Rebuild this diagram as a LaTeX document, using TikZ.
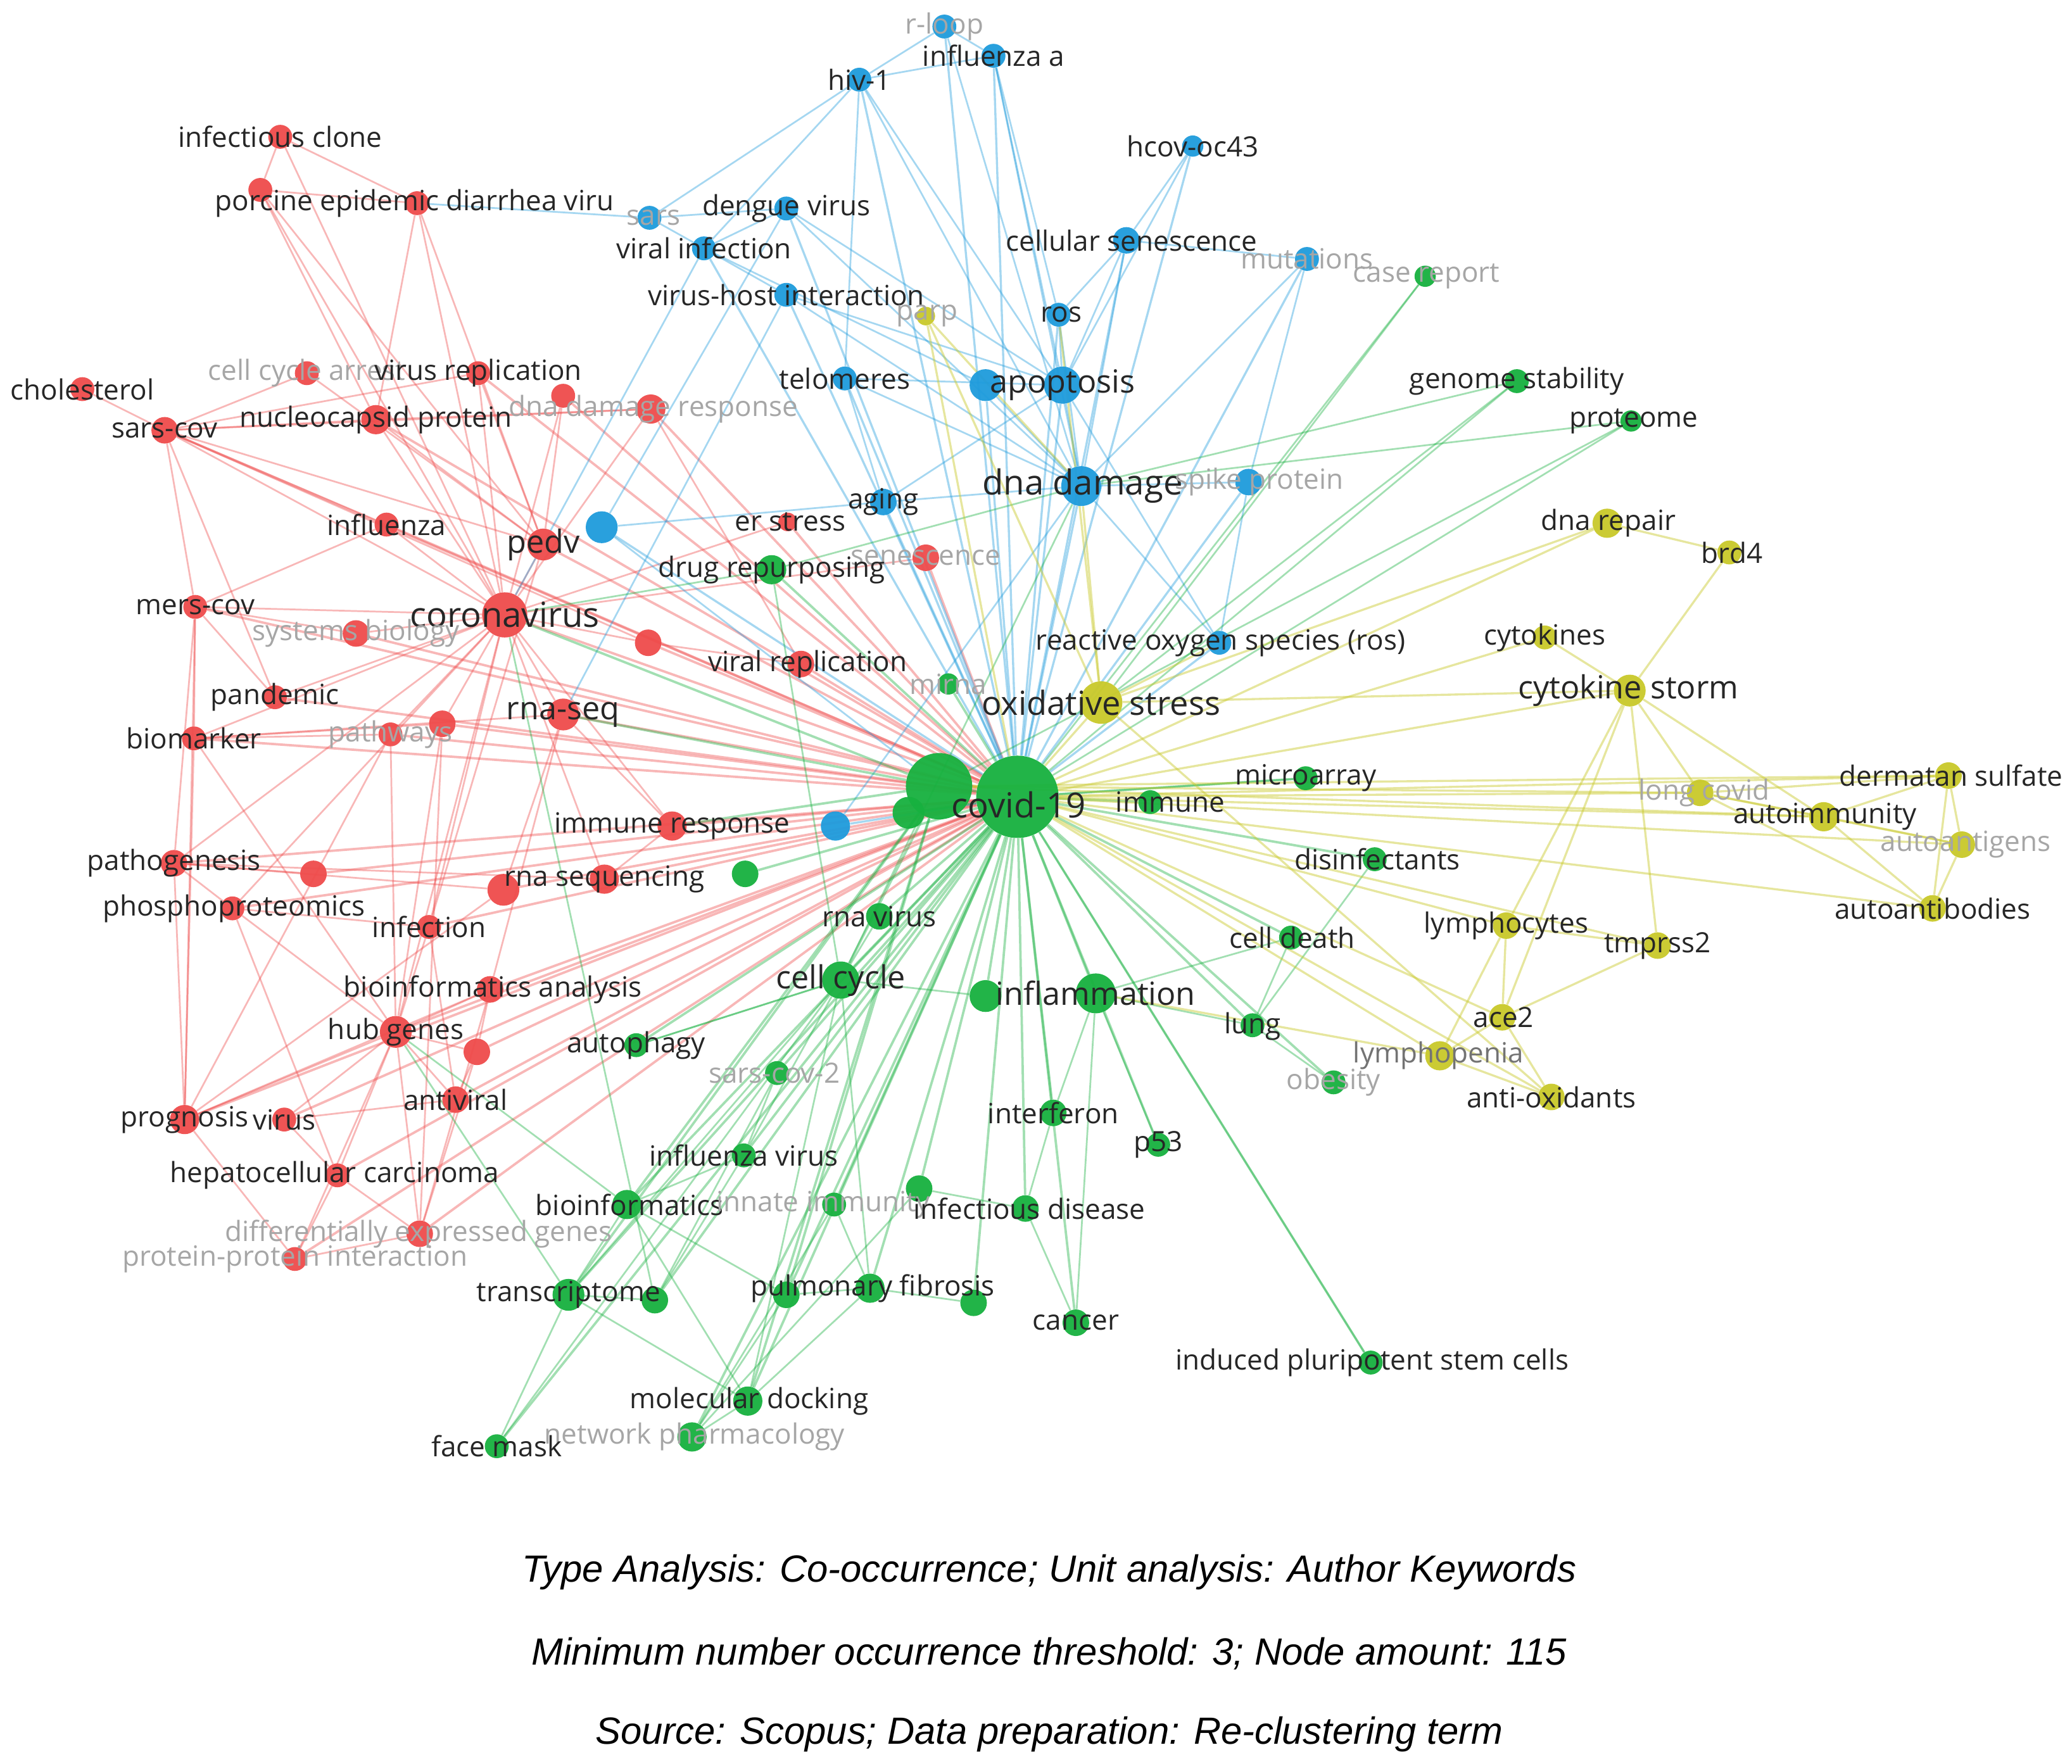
\documentclass[tikz,border=0pt]{standalone}
\usepackage{fontspec}
\setmainfont{Open Sans}
\newfontfamily\capfont{Liberation Sans}
\pgfdeclarelayer{bg}
\pgfdeclarelayer{back}
\pgfsetlayers{back,bg,main}
\definecolor{vred}{HTML}{EF4B4B}
\definecolor{vblue}{HTML}{1E9BDC}
\definecolor{vgreen}{HTML}{17B13F}
\definecolor{vyel}{HTML}{C9C92A}
\newcommand\nd[5]{\node[circle,inner sep=0pt,minimum size=#5pt,fill=#4,fill opacity=0.95] (#1) at (#2,#3) {};}
\newcommand\lb[4]{\node[lab] (#1) at (#2,#3) {#4};}
\newcommand\gl[4]{\node[glab] (#1) at (#2,#3) {#4};}
\newcommand\bl[4]{\node[blab] (#1) at (#2,#3) {#4};}
\tikzset{
 lab/.style={inner sep=0pt,font=\fontsize{21}{21}\selectfont,text=black!85},
 glab/.style={inner sep=0pt,font=\fontsize{21}{21}\selectfont,text=black!35},
 blab/.style={inner sep=0pt,font=\fontsize{24}{24}\selectfont,text=black!85},
 captxt/.style={inner sep=0pt,font=\capfont\itshape\fontsize{28.5}{28.5}\selectfont},
 er/.style={draw=vred,opacity=0.4,line width=1.3pt},
 eb/.style={draw=vblue,opacity=0.4,line width=1.3pt},
 eg/.style={draw=vgreen,opacity=0.4,line width=1.3pt},
 ey/.style={draw=vyel,opacity=0.45,line width=1.3pt},
}
\begin{document}
\begin{tikzpicture}[x=1pt,y=-1pt]
\begin{pgfonlayer}{back}
\fill[white] (0,0) rectangle (1560,1328);
\end{pgfonlayer}
\useasboundingbox (0,0) rectangle (1560,1328);
% blue
\nd{rl}{711}{20}{vblue}{18}\nd{hiv}{647}{60}{vblue}{18}\nd{infa}{748}{42}{vblue}{18}
\nd{hcov}{898}{110}{vblue}{16}\nd{sarsb}{489}{164}{vblue}{18}\nd{deng}{592}{157}{vblue}{18}
\nd{vinf}{530}{187}{vblue}{18}\nd{vhi}{592}{222}{vblue}{18}\nd{csen}{848}{181}{vblue}{20}
\nd{mut}{984}{195}{vblue}{18}\nd{ros}{797}{237}{vblue}{18}\nd{telo}{636}{285}{vblue}{18}
\nd{apo1}{742}{290}{vblue}{24}\nd{apo}{800}{290}{vblue}{28}\nd{dnad}{814}{366}{vblue}{30}
\nd{spk}{940}{363}{vblue}{20}\nd{aging}{665}{378}{vblue}{20}\nd{b1}{453}{397}{vblue}{24}
\nd{rosl}{918}{484}{vblue}{18}\nd{b2}{629}{622}{vblue}{22}
% red
\nd{icl}{211}{103}{vred}{18}\nd{ped1}{196}{143}{vred}{18}\nd{ped2}{314}{153}{vred}{18}
\nd{chol}{62}{293}{vred}{18}\nd{cca}{231}{281}{vred}{18}\nd{vrep}{360}{281}{vred}{18}
\nd{sarscov}{124}{324}{vred}{20}\nd{nucl}{283}{316}{vred}{22}\nd{ddr1}{424}{298}{vred}{18}
\nd{ddr2}{490}{308}{vred}{22}\nd{infl}{291}{395}{vred}{18}\nd{pedv}{409}{410}{vred}{24}
\nd{ers}{593}{393}{vred}{14}\nd{sen}{697}{420}{vred}{20}\nd{mers}{147}{457}{vred}{18}
\nd{cor}{380}{463}{vred}{34}\nd{sysb}{268}{477}{vred}{20}\nd{r1}{488}{484}{vred}{20}
\nd{vrp}{603}{500}{vred}{20}\nd{pand}{207}{525}{vred}{18}\nd{biom}{146}{556}{vred}{18}
\nd{path}{294}{553}{vred}{18}\nd{r2}{333}{545}{vred}{20}\nd{rnas}{424}{538}{vred}{24}
\nd{imr}{506}{622}{vred}{22}\nd{patg}{131}{650}{vred}{20}\nd{r3}{236}{658}{vred}{20}
\nd{rsq1}{379}{670}{vred}{24}\nd{rsq2}{455}{662}{vred}{22}\nd{phos}{175}{684}{vred}{18}
\nd{inf}{323}{698}{vred}{18}\nd{bia}{369}{745}{vred}{20}\nd{hub}{298}{777}{vred}{24}
\nd{r4}{359}{792}{vred}{20}\nd{prog}{139}{843}{vred}{22}\nd{vir}{214}{843}{vred}{18}
\nd{antv}{343}{828}{vred}{20}\nd{hcc}{254}{885}{vred}{18}\nd{deg}{316}{929}{vred}{20}
\nd{ppi}{222}{948}{vred}{18}
% green
\nd{case}{1073}{208}{vgreen}{16}\nd{gstab}{1142}{287}{vgreen}{18}\nd{prot}{1228}{317}{vgreen}{16}
\nd{drug}{581}{429}{vgreen}{22}\nd{mirna}{714}{515}{vgreen}{16}
\nd{cv1}{707}{592}{vgreen}{50}\nd{cv}{766}{600}{vgreen}{62}
\nd{imm}{866}{604}{vgreen}{18}\nd{marr}{983}{586}{vgreen}{18}\nd{disi}{1035}{647}{vgreen}{18}
\nd{g1}{561}{658}{vgreen}{20}\nd{g2}{684}{612}{vgreen}{24}\nd{rnav}{662}{690}{vgreen}{20}
\nd{cdth}{972}{706}{vgreen}{18}\nd{ccy}{633}{738}{vgreen}{28}\nd{infm1}{742}{750}{vgreen}{24}
\nd{infm}{825}{748}{vgreen}{30}\nd{lung}{943}{772}{vgreen}{18}\nd{auto}{479}{787}{vgreen}{18}
\nd{sc2}{585}{808}{vgreen}{18}\nd{obes}{1004}{815}{vgreen}{18}\nd{ifn}{793}{838}{vgreen}{20}
\nd{p53}{872}{862}{vgreen}{18}\nd{infv}{560}{870}{vgreen}{18}\nd{bioi}{472}{907}{vgreen}{22}
\nd{innt}{628}{907}{vgreen}{18}\nd{infd1}{692}{895}{vgreen}{20}\nd{infd}{772}{910}{vgreen}{20}
\nd{tr1}{428}{975}{vgreen}{24}\nd{tr2}{493}{979}{vgreen}{20}\nd{pf1}{655}{970}{vgreen}{22}
\nd{pf2}{592}{975}{vgreen}{20}\nd{pf3}{733}{981}{vgreen}{20}\nd{canc}{810}{996}{vgreen}{20}
\nd{ipsc}{1032}{1026}{vgreen}{18}\nd{md}{563}{1055}{vgreen}{22}\nd{np}{521}{1082}{vgreen}{22}
\nd{fm}{374}{1089}{vgreen}{18}
% yellow
\nd{parp}{697}{238}{vyel}{14}\nd{dnr}{1210}{394}{vyel}{22}\nd{brd}{1302}{416}{vyel}{18}
\nd{cytk}{1163}{480}{vyel}{18}\nd{cs}{1227}{520}{vyel}{24}\nd{ox}{829}{529}{vyel}{32}
\nd{lc}{1280}{597}{vyel}{20}\nd{derm}{1467}{584}{vyel}{20}\nd{aim}{1373}{615}{vyel}{22}
\nd{aag}{1477}{636}{vyel}{20}\nd{aab}{1455}{684}{vyel}{20}\nd{lym}{1134}{697}{vyel}{20}
\nd{tmp}{1248}{712}{vyel}{20}\nd{ace}{1131}{766}{vyel}{20}\nd{lymp}{1084}{795}{vyel}{22}
\nd{anti}{1168}{826}{vyel}{20}
\begin{pgfonlayer}{bg}
\foreach \a/\b in {icl/ped1,icl/ped2,ped1/ped2,ped1/pedv,ped1/cor,icl/cor,ped2/pedv,ped2/cor,ped2/nucl,ped1/nucl,chol/sarscov,sarscov/cca,sarscov/nucl,sarscov/vrep,sarscov/infl,sarscov/mers,sarscov/cor,sarscov/pedv,sarscov/r1,sarscov/pand,mers/cor,mers/biom,mers/patg,mers/prog,mers/infl,mers/sysb,mers/pand,cor/infl,cor/pedv,cor/nucl,cor/vrep,cor/rnas,cor/imr,cor/r2,cor/path,cor/biom,cor/patg,cor/phos,cor/inf,cor/sysb,cor/r1,cor/pand,cor/ddr1,cor/ddr2,cor/hub,cor/rsq2,pedv/nucl,pedv/vrep,pedv/cca,pedv/ddr1,pedv/inf,biom/rnas,biom/path,biom/r2,biom/hub,biom/prog,patg/phos,patg/rsq1,patg/prog,patg/r3,phos/inf,phos/hub,phos/hcc,inf/hub,bia/hub,bia/prog,hub/prog,hub/antv,hub/hcc,hub/ppi,hub/deg,hcc/deg,hcc/ppi,deg/ppi,deg/bia,vir/antv,vir/hcc,antv/r4,rnas/imr,rnas/rsq1,rnas/bia,imr/rsq2,r1/vrp,vrp/ddr2,sen/cor,ers/cor,r2/deg,r2/hub,path/hub,path/prog,inf/antv,prog/ppi,bia/r4,r4/hub,deg/r4,vir/hub,patg/rsq2,prog/rsq1,sarscov/ddr2,nucl/ddr2}
 \draw[er] (\a)--(\b);
\foreach \b in {cor,rnas,imr,rsq2,pedv,r1,hub,bia,inf,phos,patg,biom,path,r2,mers,sarscov,vrp,ers,sen,ddr2,antv,hcc,deg,ppi,prog,r4,rsq1,pand,sysb,infl,nucl,vrep,ddr1,vir,r3}
 \draw[er,line width=1.8pt] (cv)--(\b);
\foreach \a/\b in {rl/hiv,rl/infa,hiv/infa,hiv/vinf,hiv/sarsb,hiv/dnad,infa/dnad,infa/apo,infa/ros,hiv/apo,hcov/apo,hcov/csen,sarsb/deng,sarsb/vinf,deng/vinf,deng/apo,deng/dnad,vinf/vhi,vinf/apo1,vhi/apo,vhi/dnad,csen/ros,csen/apo,csen/dnad,csen/mut,mut/dnad,mut/spk,ros/apo,ros/dnad,telo/apo,telo/dnad,telo/aging,apo/dnad,apo1/dnad,dnad/spk,dnad/aging,dnad/rosl,b1/aging,b1/deng,apo/rosl,spk/rosl,aging/apo,b2/dnad,hiv/telo,rl/dnad,b1/cv1,sarsb/ped2,vinf/cor,vhi/rnas}
 \draw[eb] (\a)--(\b);
\foreach \b in {hiv,infa,vinf,vhi,csen,ros,telo,apo,apo1,dnad,spk,aging,rosl,b1,b2,mut,hcov,deng,rl}
 \draw[eb,line width=1.6pt] (cv)--(\b);
\foreach \a/\b in {drug/ccy,case/cv,case/ox,gstab/dnad,gstab/cv,gstab/ox,prot/cv,prot/cv1,prot/dnad,marr/cv,ccy/infm1,ccy/auto,ccy/infv,ccy/tr1,ccy/pf1,ccy/dnad,infm/ifn,infm/cdth,infm/lung,infm/p53,infm/canc,tr1/tr2,tr1/fm,tr1/bioi,tr1/md,bioi/md,bioi/pf2,pf1/pf2,pf1/pf3,pf1/md,pf1/innt,np/md,np/pf2,np/infd1,canc/infd,infd1/infd,infd/ifn,lung/cdth,lung/obes,disi/lung,ipsc/cv,infv/bioi,infv/sc2,sc2/tr2,rnav/ccy,auto/ccy,tr2/infv,np/innt,drug/dnad,drug/cor,md/ccy,fm/ccy,bioi/hub,tr1/hub,tr2/cor}
 \draw[eg] (\a)--(\b);
\foreach \b in {drug,mirna,imm,marr,disi,g1,g2,rnav,cdth,ccy,infm1,infm,lung,auto,sc2,obes,ifn,p53,infv,bioi,innt,infd1,infd,tr1,tr2,pf1,pf2,pf3,canc,ipsc,md,np,fm,cv1}
 \draw[eg,line width=1.8pt] (cv)--(\b);
\foreach \b in {cor,rnas,imr,ccy,tr1,bioi,md,pf2}
 \draw[eg,line width=1.8pt] (cv1)--(\b);
\foreach \a/\b in {parp/cv,parp/dnad,dnr/brd,dnr/cv,dnr/ox,brd/cs,cytk/cs,cytk/cv,cs/cv,cs/ox,cs/lc,cs/aim,cs/tmp,cs/lym,cs/ace,derm/lc,derm/aim,derm/aag,derm/aab,aim/aag,aim/aab,aag/aab,lc/aim,lc/aab,lc/aag,lym/tmp,lym/ace,lym/lymp,tmp/ace,ace/lymp,ace/anti,lymp/anti,ox/cv,lym/cv,derm/cv,aim/cv,aab/cv,lc/cv,aag/cv,tmp/cv,ace/cv,lymp/cv,ox/dnad,ox/ros,ox/rosl,anti/ox,anti/cv,derm/cv1,aim/cv1,lc/cv1,ox/parp,lymp/infm}
 \draw[ey,line width=1.6pt] (\a)--(\b);
\end{pgfonlayer}
% labels
\gl{lrl}{711}{20}{r-loop}\lb{lhiv}{647}{60}{hiv-1}\lb{linfa}{748}{42}{influenza a}
\lb{lhcov}{898}{110}{hcov-oc43}\gl{lsarsb}{492}{164}{sars}\lb{ldeng}{592}{157}{dengue virus}
\lb{lvinf}{530}{187}{viral infection}\lb{lvhi}{592}{222}{virus-host interaction}
\lb{lcsen}{852}{181}{cellular senescence}\gl{lmut}{984}{195}{mutations}\lb{lros}{799}{237}{ros}
\lb{ltelo}{636}{285}{telomeres}\bl{lapo}{800}{290}{apoptosis}\node[blab,font=\fontsize{26}{26}\selectfont] (ldnad) at (815,366) {dna damage};
\gl{lspk}{948}{363}{spike protein}\lb{laging}{665}{378}{aging}\lb{lrosl}{919}{484}{reactive oxygen species (ros)}
\lb{licl}{211}{103}{infectious clone}\lb{lped}{312}{153}{porcine epidemic diarrhea viru}
\lb{lchol}{62}{293}{cholesterol}\gl{lcca}{231}{281}{cell cycle arrest}\lb{lvrep}{360}{281}{virus replication}
\lb{lsarscov}{124}{324}{sars-cov}\lb{lnucl}{283}{316}{nucleocapsid protein}\gl{lddr}{492}{308}{dna damage response}
\lb{linfl}{291}{395}{influenza}\bl{lpedv}{409}{410}{pedv}\lb{lers}{595}{393}{er stress}\gl{lsen}{697}{420}{senescence}
\lb{lmers}{147}{457}{mers-cov}\node[blab,font=\fontsize{26}{26}\selectfont] (lcor) at (380,463) {coronavirus};
\gl{lsysb}{268}{477}{systems biology}\lb{lvrp}{608}{500}{viral replication}\lb{lpand}{207}{525}{pandemic}
\lb{lbiom}{146}{556}{biomarker}\gl{lpath}{294}{553}{pathways}\bl{lrnas}{424}{538}{rna-seq}
\lb{limr}{506}{622}{immune response}\lb{lpatg}{131}{650}{pathogenesis}\lb{lrsq}{455}{662}{rna sequencing}
\lb{lphos}{176}{684}{phosphoproteomics}\lb{linf}{323}{698}{infection}\lb{lbia}{371}{745}{bioinformatics analysis}
\lb{lhub}{298}{777}{hub genes}\lb{lprog}{139}{843}{prognosis}\lb{lvir}{214}{843}{virus}\lb{lantv}{343}{828}{antiviral}
\lb{lhcc}{252}{885}{hepatocellular carcinoma}\gl{ldeg}{315}{929}{differentially expressed genes}
\gl{lppi}{222}{948}{protein-protein interaction}
\gl{lcase}{1074}{208}{case report}\lb{lgstab}{1142}{287}{genome stability}\lb{lprot}{1230}{317}{proteome}
\lb{ldrug}{581}{429}{drug repurposing}\gl{lmirna}{714}{515}{mirna}
\node[blab,font=\fontsize{26}{26}\selectfont] (lcv) at (767,606) {covid-19};
\lb{limm}{881}{604}{immune}\lb{lmarr}{983}{586}{microarray}\lb{ldisi}{1037}{647}{disinfectants}
\lb{lrnav}{662}{690}{rna virus}\lb{lcdth}{973}{706}{cell death}\bl{lccy}{633}{738}{cell cycle}
\bl{linfm}{825}{748}{inflammation}\lb{llung}{943}{773}{lung}\lb{lauto}{479}{787}{autophagy}
\gl{lsc2}{583}{808}{sars-cov-2}\gl{lobes}{1004}{815}{obesity}\lb{lifn}{793}{838}{interferon}
\lb{lp53}{872}{862}{p53}\lb{linfv}{560}{870}{influenza virus}\lb{lbioi}{474}{907}{bioinformatics}
\gl{linnt}{620}{907}{innate immunity}\lb{linfd}{775}{910}{infectious disease}
\lb{ltr}{428}{975}{transcriptome}\lb{lpf}{657}{970}{pulmonary fibrosis}\lb{lcanc}{810}{996}{cancer}
\lb{lipsc}{1033}{1026}{induced pluripotent stem cells}\lb{lmd}{564}{1055}{molecular docking}
\gl{lnp}{523}{1082}{network pharmacology}\lb{lfm}{374}{1089}{face mask}
\gl{lparp}{698}{238}{parp}\lb{ldnr}{1211}{394}{dna repair}\lb{lbrd}{1304}{416}{brd4}
\lb{lcytk}{1163}{480}{cytokines}\bl{lcs}{1226}{520}{cytokine storm}
\node[blab,font=\fontsize{25}{25}\selectfont] (lox) at (829,529) {oxidative stress};
\gl{llc}{1283}{597}{long covid}\lb{lderm}{1469}{584}{dermatan sulfate}\lb{laim}{1374}{615}{autoimmunity}
\gl{laag}{1480}{636}{autoantigens}\lb{laab}{1455}{684}{autoantibodies}\lb{llym}{1134}{697}{lymphocytes}
\lb{ltmp}{1248}{712}{tmprss2}\lb{lace}{1132}{766}{ace2}\node[lab,text=black!55] (llymp) at (1083,795) {lymphopenia};
\lb{lanti}{1168}{826}{anti-oxidants}
% caption
\node[captxt] (c1) at (790,1184) {Type Analysis: Co-occurrence; Unit analysis: Author Keywords};
\node[captxt] (c2) at (790,1245) {Minimum number occurrence threshold: 3; Node amount: 115};
\node[captxt] (c3) at (790,1306) {Source: Scopus; Data preparation: Re-clustering term};
\end{tikzpicture}
\end{document}
